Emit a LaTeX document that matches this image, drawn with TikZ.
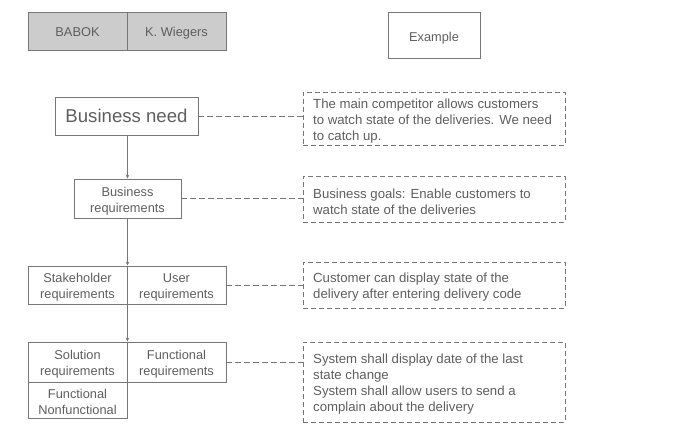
\documentclass[tikz,border=0pt]{standalone}
\usepackage{fontspec}
\setmainfont{Liberation Sans}
\usetikzlibrary{arrows.meta,calc}
\definecolor{ln}{HTML}{777777}
\definecolor{tx}{HTML}{5E5E5E}
\definecolor{gf}{HTML}{CCCCCC}
\tikzset{
  bx/.style={draw=ln, line width=0.9pt, inner sep=0pt},
  gbx/.style={bx, fill=gf},
  lbl/.style={text=tx, align=center, inner sep=0pt, yshift=-2pt, font=\fontsize{12.8}{16}\selectfont},
  one/.style={text height=1.5ex, text depth=0.25ex},
  note/.style={draw=ln, line width=0.9pt, dashed, dash pattern=on 5pt off 3pt, inner sep=0pt},
  notetxt/.style={text=tx, anchor=west, align=left, inner sep=0pt, font=\fontsize{13.2}{16}\selectfont},
  link/.style={draw=ln, line width=0.9pt, dash pattern=on 6pt off 3pt},
  arr/.style={draw=ln, line width=0.9pt, -{Stealth[length=4pt,width=3.5pt]}},
}
\begin{document}
\begin{tikzpicture}[x=1pt,y=-1pt]
\useasboundingbox (0,0) rectangle (685,446);
% top legend
\node[gbx, minimum width=99pt, minimum height=38pt, label={[lbl, one, yshift=0pt]center:BABOK}] (babok) at (77.5,31) {};
\node[gbx, minimum width=99pt, minimum height=38pt, label={[lbl, one, yshift=0pt]center:K. Wiegers}] (wieg) at (176.5,31) {};
\node[bx, minimum width=92pt, minimum height=46pt, label={[lbl, one, yshift=-1.5pt]center:Example}] (ex) at (434,35) {};
% left column
\node[bx, minimum width=143pt, minimum height=38pt, label={[lbl, one, yshift=-1.5pt, font=\fontsize{18.6}{22}\selectfont]center:Business need}] (need) at (126.5,116) {};
\node[bx, minimum width=107pt, minimum height=39pt, label={[lbl, yshift=-1pt]center:{Business\\requirements}}] (breq) at (127.5,198.5) {};
\node[bx, minimum width=99pt, minimum height=38pt, label={[lbl]center:{Stakeholder\\requirements}}] (stake) at (77.5,285) {};
\node[bx, minimum width=99pt, minimum height=38pt, label={[lbl]center:{User\\requirements}}] (user) at (176.5,285) {};
\node[bx, minimum width=99pt, minimum height=40pt, label={[lbl]center:{Solution\\requirements}}] (sol) at (77.5,362) {};
\node[bx, minimum width=99pt, minimum height=40pt, label={[lbl]center:{Functional\\requirements}}] (func) at (176.5,362) {};
\node[bx, minimum width=99pt, minimum height=36pt, label={[lbl]center:{Functional\\Nonfunctional}}] (fnf) at (77.5,400) {};
% notes
\node[note, minimum width=262pt, minimum height=53pt] (n1) at (434,118.5) {};
\node[notetxt] (t1) at (313,121.5) {The main competitor allows customers\\to watch state of the deliveries. We need\\to catch up.};
\node[note, minimum width=262pt, minimum height=46pt] (n2) at (434,199) {};
\node[notetxt] (t2) at (313,201.5) {Business goals: Enable customers to\\watch state of the deliveries};
\node[note, minimum width=262pt, minimum height=46pt] (n3) at (434,285) {};
\node[notetxt] (t3) at (313,287.5) {Customer can display state of the\\delivery after entering delivery code};
\node[note, minimum width=262pt, minimum height=80pt] (n4) at (434,382) {};
\node[notetxt] (t4) at (313,384.5) {System shall display date of the last\\state change\\System shall allow users to send a\\complain about the delivery};
% arrows
\draw[arr] (need.south -| breq.north) -- (breq.north);
\draw[arr] (breq.south) -- (breq.south |- stake.north);
\draw[arr] (stake.south east) -- (sol.north east);
% dashed links
\draw[link] (need.east) -- (need.east -| n1.west);
\draw[link] (breq.east) -- (breq.east -| n2.west);
\draw[link] (user.east) -- (user.east -| n3.west);
\draw[link] (func.east) -- (func.east -| n4.west);
\end{tikzpicture}
\end{document}
